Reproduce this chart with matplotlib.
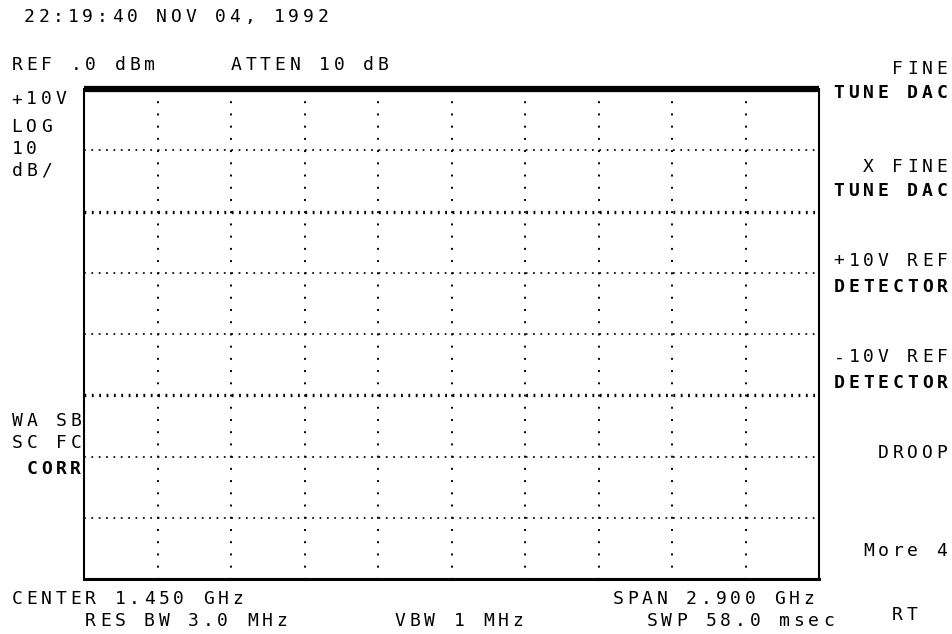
import numpy as np
import matplotlib.pyplot as plt

plt.rcParams['lines.scale_dashes'] = False

# analyzer settings (span in GHz, levels in dBm)
start_ghz = 0.0
stop_ghz = 2.9
ref_level = 0.0
db_per_div = 10
n_xdiv = 10
n_ydiv = 8

# trace sitting on the reference line across the whole span
trace_freq = [0.0, 2.9]
trace_level = [0.0, 0.0]

header_time = "22:19:40 NOV 04, 1992"
ref_text = "REF .0 dBm"
atten_text = "ATTEN 10 dB"
scale_labels = ["+10V", "LOG", "10", "dB/"]
scale_rows = [98, 126, 148, 169]
flag_labels = ["WA SB", "SC FC", " CORR"]
flag_rows = [420, 442, 468]
bottom_labels = ["CENTER 1.450 GHz", "     RES BW 3.0 MHz", "VBW 1 MHz",
                 "SPAN 2.900 GHz", "SWP 58.0 msec", "RT"]
bottom_pos = [(12, 598), (12, 620), (395, 620), (613, 598), (647, 620), (892, 613)]
softkeys = ["FINE", "TUNE DAC", "X FINE", "TUNE DAC", "+10V REF", "DETECTOR",
            "-10V REF", "DETECTOR", "DROOP", "More 4"]
softkey_rows = [68, 91, 166, 189, 259, 285, 356, 381, 452, 549]
softkey_bold = [False, True, False, True, False, True, False, True, False, False]

W, H = 953, 634
PITCH = 14.7
fig = plt.figure(figsize=(W / 100, H / 100), dpi=100)
fig.patch.set_facecolor('white')

# graticule
ax = fig.add_axes([84 / W, (H - 579) / H, 735 / W, 490 / H])
bottom = ref_level - n_ydiv * db_per_div
ax.set_xlim(start_ghz, stop_ghz)
ax.set_ylim(bottom, ref_level)
ax.set_xticks([])
ax.set_yticks([])
ax.spines['top'].set_visible(False)
ax.spines['left'].set_linewidth(1.5)
ax.spines['right'].set_linewidth(1.5)
ax.spines['bottom'].set_linewidth(2.2)

fstep = (stop_ghz - start_ghz) / n_xdiv
for i in range(1, n_xdiv):
    f = start_ghz + i * fstep
    ax.plot([f, f], [ref_level, bottom], color='black', lw=1.4,
            linestyle=(0, (1.4, 7.4)), solid_capstyle='butt')
for j in range(1, n_ydiv):
    lv = ref_level - j * db_per_div
    lw = 2.4 if j in (2, 5) else 1.2
    ax.plot([start_ghz, stop_ghz], [lv, lv], color='black', lw=lw,
            linestyle=(0, (1.3, 4.0)), solid_capstyle='butt')

ax.plot(trace_freq, trace_level, color='black', lw=4.5, clip_on=False,
        solid_capstyle='butt')

# annotation layer in screen pixels
ov = fig.add_axes([0, 0, 1, 1], facecolor='none')
ov.set_xlim(0, W)
ov.set_ylim(H, 0)
ov.axis('off')


def crt_text(x0, yc, s, bold=False):
    # fixed-pitch character cells like the instrument display
    for k, ch in enumerate(s):
        if ch == ' ':
            continue
        ov.text(x0 + k * PITCH + 5, yc + 6.5, ch, ha='center', va='baseline',
                family='DejaVu Sans Mono', fontsize=13,
                fontweight='bold' if bold else 'normal', color='black')


def crt_text_right(x1, yc, s, bold=False):
    crt_text(x1 - 10 - (len(s) - 1) * PITCH, yc, s, bold)


crt_text(24, 15, header_time)
crt_text(12, 64, ref_text)
crt_text(231, 64, atten_text)
for s, y in zip(scale_labels, scale_rows):
    crt_text(12, y, s)
for s, y in zip(flag_labels, flag_rows):
    crt_text(12, y, s, bold=(s.strip() == "CORR"))
for s, (x, y) in zip(bottom_labels, bottom_pos):
    crt_text(x, y, s)
for s, y, b in zip(softkeys, softkey_rows, softkey_bold):
    crt_text_right(947, y, s, b)

fig.savefig('out.png', dpi=100)
